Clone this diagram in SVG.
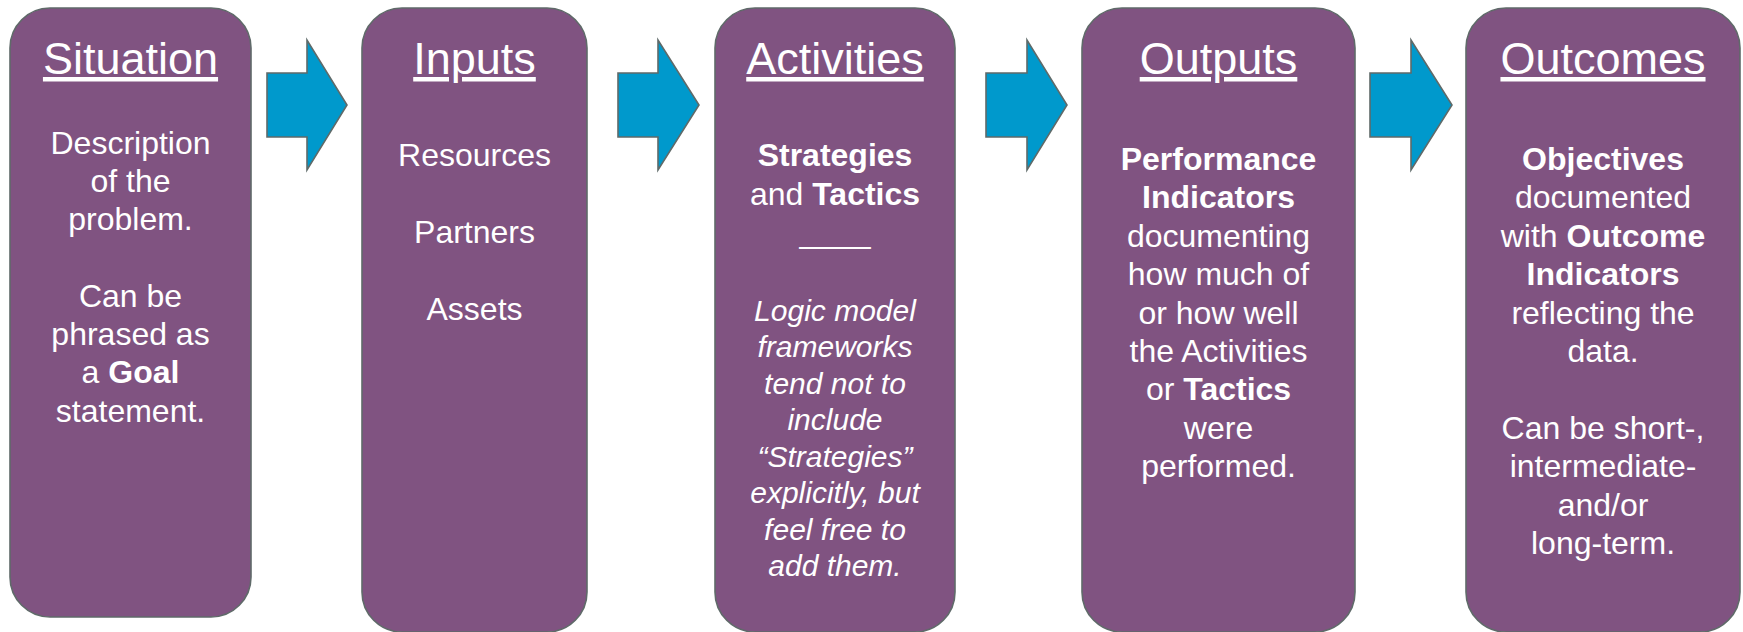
<svg xmlns="http://www.w3.org/2000/svg" width="1743" height="632" viewBox="0 0 1743 632">
<style>
.box{fill:#805381;stroke:#5f6a69;stroke-width:1.6}
.arr{fill:#0099cc;stroke:#5f6a69;stroke-width:1.6;stroke-linejoin:miter}
text{font-family:"Liberation Sans",Arial,sans-serif;fill:#ffffff;text-anchor:middle}
.title{font-size:45px;text-decoration:underline}
.body{font-size:32px}
.ital{font-size:30px;font-style:italic}
.b{font-weight:bold}
</style>
<rect width="1743" height="632" fill="#ffffff"/>
<g id="connectors">
<path class="arr" d="M267,73 H307 V40 L347,105 L307,170 V137 H267 Z"/>
<path class="arr" d="M618,73 H658 V40 L699,105 L658,170 V137 H618 Z"/>
<path class="arr" d="M986,73 H1027 V40 L1067,105 L1027,170 V137 H986 Z"/>
<path class="arr" d="M1370,73 H1411 V40 L1452,105 L1411,170 V137 H1370 Z"/>
</g>
<g id="situation">
<rect class="box" x="10" y="8" width="241" height="609" rx="40" ry="40"/>
<text class="title" x="130.5" y="74">Situation</text>
<text class="body" x="130.5" y="154">Description</text>
<text class="body" x="130.5" y="192">of the</text>
<text class="body" x="130.5" y="230">problem.</text>
<text class="body" x="130.5" y="307">Can be</text>
<text class="body" x="130.5" y="345">phrased as</text>
<text class="body" x="130.5" y="383">a <tspan class="b">Goal</tspan></text>
<text class="body" x="130.5" y="422">statement.</text>
</g>
<g id="inputs">
<rect class="box" x="362" y="8" width="225" height="624" rx="40" ry="40"/>
<text class="title" x="474.5" y="74">Inputs</text>
<text class="body" x="474.5" y="166">Resources</text>
<text class="body" x="474.5" y="243">Partners</text>
<text class="body" x="474.5" y="320">Assets</text>
</g>
<g id="activities">
<rect class="box" x="715" y="8" width="240" height="624" rx="40" ry="40"/>
<text class="title" x="835" y="74">Activities</text>
<text class="body b" x="835" y="166">Strategies</text>
<text class="body" x="835" y="205">and <tspan class="b">Tactics</tspan></text>
<text class="body" x="835" y="243">____</text>
<text class="ital" x="835" y="320.5">Logic model</text>
<text class="ital" x="835" y="357">frameworks</text>
<text class="ital" x="835" y="394">tend not to</text>
<text class="ital" x="835" y="430">include</text>
<text class="ital" x="835" y="467">“Strategies”</text>
<text class="ital" x="835" y="503">explicitly, but</text>
<text class="ital" x="835" y="540">feel free to</text>
<text class="ital" x="835" y="576">add them.</text>
</g>
<g id="outputs">
<rect class="box" x="1082" y="8" width="273" height="624" rx="40" ry="40"/>
<text class="title" x="1218.5" y="74">Outputs</text>
<text class="body b" x="1218.5" y="169.5">Performance</text>
<text class="body b" x="1218.5" y="207.5">Indicators</text>
<text class="body" x="1218.5" y="246.5">documenting</text>
<text class="body" x="1218.5" y="284.5">how much of</text>
<text class="body" x="1218.5" y="323.5">or how well</text>
<text class="body" x="1218.5" y="361.5">the Activities</text>
<text class="body" x="1218.5" y="399.5">or <tspan class="b">Tactics</tspan></text>
<text class="body" x="1218.5" y="438.5">were</text>
<text class="body" x="1218.5" y="476.5">performed.</text>
</g>
<g id="outcomes">
<rect class="box" x="1466" y="8" width="274" height="624" rx="40" ry="40"/>
<text class="title" x="1603" y="74">Outcomes</text>
<text class="body b" x="1603" y="169.5">Objectives</text>
<text class="body" x="1603" y="207.5">documented</text>
<text class="body" x="1603" y="246.5">with <tspan class="b">Outcome</tspan></text>
<text class="body b" x="1603" y="284.5">Indicators</text>
<text class="body" x="1603" y="323.5">reflecting the</text>
<text class="body" x="1603" y="361.5">data.</text>
<text class="body" x="1603" y="438.5">Can be short-,</text>
<text class="body" x="1603" y="476.5">intermediate-</text>
<text class="body" x="1603" y="515.5">and/or</text>
<text class="body" x="1603" y="553.5">long-term.</text>
</g>
</svg>
